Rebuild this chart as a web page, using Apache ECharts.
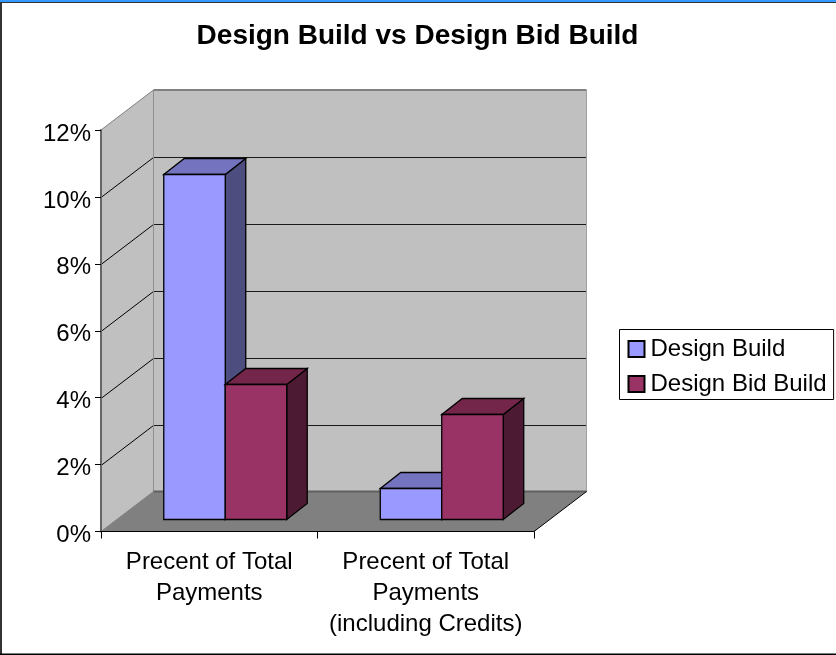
<!DOCTYPE html>
<html><head><meta charset="utf-8">
<style>html,body{margin:0;padding:0;background:#fff}#c{width:836px;height:655px}</style>
<script src="https://cdn.jsdelivr.net/npm/echarts@6/dist/echarts.min.js"></script>
</head><body><div id="c"></div>
<script>
const categories = ['Precent of Total\nPayments', 'Precent of Total\nPayments\n(including Credits)'];
const seriesNames = ['Design Build', 'Design Bid Build'];
const designBuild = [10.3, 0.93];
const designBidBuild = [4.03, 3.13];
const yTicks = [0, 2, 4, 6, 8, 10, 12];

const FONT = '"Liberation Sans", Arial, sans-serif';
const WALL = [52.5, -40], BAR_FRONT = [16, -12.2], BAR_DEPTH = [20.5, -16], BAR_W = 0.284;
const faces = {
  'Design Build': ['#9999ff', '#4d4d80', '#7373bf'],
  'Design Bid Build': ['#993366', '#4d1a33', '#732649']
};
const poly = (points, fill, stroke, lw) => ({type: 'polygon', shape: {points}, style: {fill, stroke: stroke || null, lineWidth: lw || 0}});
const line = (a, b, stroke, lw) => ({type: 'line', shape: {x1: a[0], y1: a[1], x2: b[0], y2: b[1]}, style: {stroke, lineWidth: lw || 1}});

function renderWalls(params, api) {
  const cs = params.coordSys, x0 = cs.x, x1 = cs.x + cs.width;
  const y0 = api.coord([0, 0])[1], yT = api.coord([0, 12])[1];
  const dx = WALL[0], dy = WALL[1];
  const kids = [
    poly([[x0 + dx, yT + dy], [x1 + dx, yT + dy], [x1 + dx, y0 + dy], [x0 + dx, y0 + dy]], '#c0c0c0'),
    poly([[x0, yT], [x0 + dx, yT + dy], [x0 + dx, y0 + dy], [x0, y0]], '#c0c0c0'),
    poly([[x0, y0], [x0 + dx, y0 + dy], [x1 + dx, y0 + dy], [x1, y0]], '#808080')
  ];
  yTicks.forEach(t => {
    if (t === 0 || t === 12) return;
    const y = Math.round(api.coord([0, t])[1]) + 0.5;
    const by = y + dy;
    kids.push(line([x0, y], [x0 + dx, by], '#000', 1));
    kids.push(line([x0 + dx, by], [x1 + dx, by], '#1a1a1a', 1.2));
  });
  kids.push(line([x0, yT], [x0 + dx, yT + dy], '#808080', 1));
  kids.push(line([x0 + dx, yT + dy], [x1 + dx, yT + dy], '#808080', 2));
  kids.push(line([x0 + dx, yT + dy], [x0 + dx, y0 + dy], '#909090', 1));
  kids.push(line([x1 + dx, yT + dy], [x1 + dx, y0 + dy], '#a0a0a0', 1));
  kids.push(line([x0 + dx, y0 + dy], [x1 + dx, y0 + dy], '#606060', 2));
  kids.push(line([x0, y0], [x0 + dx, y0 + dy], '#808080', 1));
  kids.push(line([x1, y0], [x1 + dx, y0 + dy], '#000', 1));
  return {type: 'group', children: kids};
}

function barRenderer(name, seriesIndex) {
  const [cf, cs, ct] = faces[name];
  return function (params, api) {
    const cat = api.value(0), val = api.value(1);
    const band = api.size([1, 0])[0], w = band * BAR_W;
    const c = api.coord([cat, 0]);
    const top = api.coord([cat, val])[1];
    const l = c[0] + BAR_FRONT[0] + (seriesIndex - 1) * w, r = l + w;
    const b = Math.floor(c[1] + BAR_FRONT[1]) + 0.5, t = Math.floor(top + BAR_FRONT[1]) + 0.5;
    const dx = BAR_DEPTH[0], dy = BAR_DEPTH[1];
    const E = '#000', LW = 1.3;
    return {type: 'group', children: [
      poly([[r, t], [r + dx, t + dy], [r + dx, b + dy], [r, b]], cs, E, LW),
      poly([[l, t], [l + dx, t + dy], [r + dx, t + dy], [r, t]], ct, E, LW),
      poly([[l, t], [r, t], [r, b], [l, b]], cf, E, LW)
    ]};
  };
}

const chart = echarts.init(document.getElementById('c'), null, {renderer: 'canvas'});
chart.setOption({
  animation: false,
  backgroundColor: '#fff',
  textStyle: {fontFamily: FONT},
  title: {text: 'Design Build vs Design Bid Build', left: 412.5, top: 17, textAlign: 'center',
    textStyle: {fontFamily: FONT, fontSize: 28, fontWeight: 'bold', color: '#000'}},
  grid: {left: 101, right: 302, top: 130, bottom: 123.5},
  xAxis: {type: 'category', data: categories, z: 5,
    axisLine: {lineStyle: {color: '#000', width: 1}},
    axisTick: {show: true, length: 7, alignWithLabel: false, lineStyle: {color: '#000'}},
    axisLabel: {fontFamily: FONT, fontSize: 24, color: '#000', margin: 15, lineHeight: 31, interval: 0}},
  yAxis: {type: 'value', min: 0, max: 12, interval: 2, z: 5,
    axisLine: {show: true, lineStyle: {color: '#666', width: 2}},
    axisTick: {show: true, length: 6, lineStyle: {color: '#000'}},
    splitLine: {show: false},
    axisLabel: {fontFamily: FONT, fontSize: 24, color: '#000', margin: 10, padding: [0, 0, 0, 0], verticalAlign: 'top', lineHeight: 8, formatter: '{value}%'}},
  legend: {data: seriesNames, orient: 'vertical', left: 619.5, top: 329.5,
    backgroundColor: '#fff', borderColor: '#000', borderWidth: 1,
    padding: [7.5, 7, 3.5, 8], itemGap: 11, itemWidth: 16, itemHeight: 16,
    icon: 'rect',
    textStyle: {fontFamily: FONT, fontSize: 24, color: '#000', padding: [2, 0, 0, 1]}},
  series: [
    {type: 'custom', name: 'walls', z: -1, silent: true, data: [[0, 0]], encode: {x: 0, y: 1}, renderItem: renderWalls},
    {type: 'custom', name: seriesNames[0], z: 3, data: designBuild.map((v, i) => [i, v]), encode: {x: 0, y: 1},
      itemStyle: {color: faces[seriesNames[0]][0], borderColor: '#000', borderWidth: 1},
      renderItem: barRenderer(seriesNames[0], 0)},
    {type: 'custom', name: seriesNames[1], z: 4, data: designBidBuild.map((v, i) => [i, v]), encode: {x: 0, y: 1},
      itemStyle: {color: faces[seriesNames[1]][0], borderColor: '#000', borderWidth: 1},
      renderItem: barRenderer(seriesNames[1], 1)}
  ],
  graphic: [
    {type: 'rect', silent: true, z: 100, shape: {x: 0, y: 0, width: 836, height: 2}, style: {fill: '#3399ff'}},
    {type: 'rect', silent: true, z: 100, shape: {x: 0, y: 2, width: 836, height: 1}, style: {fill: '#333'}},
    {type: 'rect', silent: true, z: 100, shape: {x: 0, y: 2, width: 2, height: 653}, style: {fill: '#333'}},
    {type: 'rect', silent: true, z: 100, shape: {x: 0, y: 653.5, width: 836, height: 1.5}, style: {fill: '#000'}}
  ]
});
</script></body></html>
